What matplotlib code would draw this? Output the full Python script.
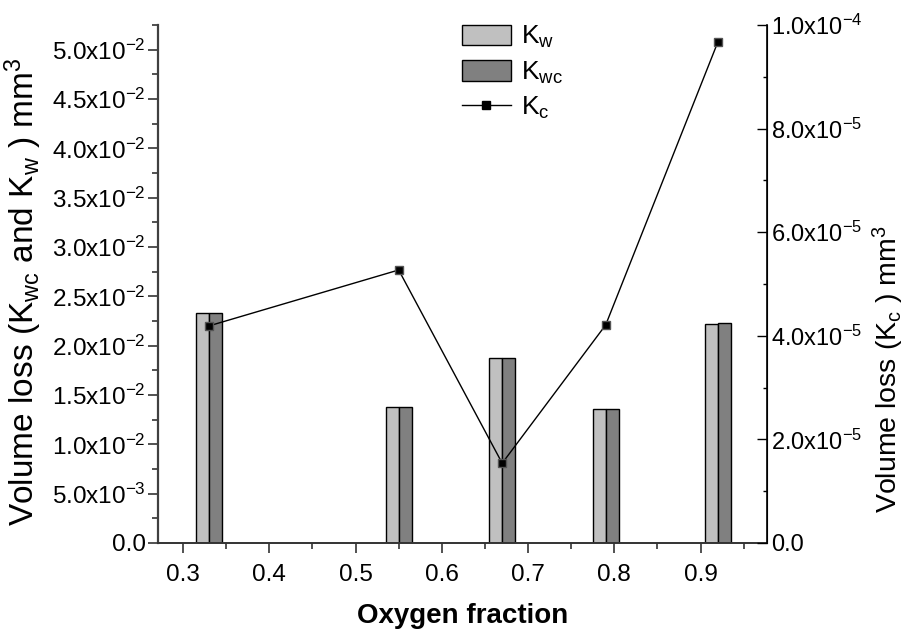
import matplotlib.pyplot as plt
import matplotlib.ticker as mticker
from matplotlib.patches import Patch
from matplotlib.lines import Line2D
import numpy as np

# data
oxygen_fraction = [0.33, 0.55, 0.67, 0.79, 0.92]
k_w = [2.33e-2, 1.378e-2, 1.875e-2, 1.358e-2, 2.22e-2]
k_wc = [2.33e-2, 1.378e-2, 1.875e-2, 1.358e-2, 2.23e-2]
k_c = [4.19e-5, 5.27e-5, 1.54e-5, 4.21e-5, 9.67e-5]

plt.rcParams["font.family"] = ["Liberation Sans", "DejaVu Sans"]
plt.rcParams["mathtext.default"] = "regular"


def sci_label(v, pos):
    if v == 0:
        return "0.0"
    exp = int(np.floor(np.log10(abs(v)) + 1e-9))
    mant = v / 10 ** exp
    return f"{mant:.1f}x10$^{{{exp}}}$"


def main():
    fig = plt.figure(figsize=(9.06, 6.37), dpi=100)
    ax1 = fig.add_axes([0.1744, 0.1476, 0.6722, 0.8132])
    ax2 = ax1.twinx()

    bar_w = 0.015
    x = np.array(oxygen_fraction)
    ax1.bar(x - bar_w / 2, k_w, width=bar_w, color="#c0c0c0",
            edgecolor="black", linewidth=1.0)
    ax1.bar(x + bar_w / 2, k_wc, width=bar_w, color="#808080",
            edgecolor="black", linewidth=1.0)

    ax2.plot(x, k_c, color="black", linewidth=1.0, marker="s",
             markersize=6, markerfacecolor="black", markeredgecolor="#555555")

    ax1.set_xlim(0.271, 0.977)
    ax1.set_ylim(0, 0.0525)
    ax2.set_ylim(0, 1.0e-4)

    ax1.xaxis.set_major_locator(mticker.MultipleLocator(0.1))
    ax1.xaxis.set_minor_locator(mticker.MultipleLocator(0.05))
    ax1.xaxis.set_major_formatter(mticker.FormatStrFormatter("%.1f"))
    ax1.yaxis.set_major_locator(mticker.MultipleLocator(0.005))
    ax1.yaxis.set_minor_locator(mticker.MultipleLocator(0.0025))
    ax1.yaxis.set_major_formatter(mticker.FuncFormatter(sci_label))
    ax2.yaxis.set_major_locator(mticker.MultipleLocator(2e-5))
    ax2.yaxis.set_minor_locator(mticker.MultipleLocator(1e-5))
    ax2.yaxis.set_major_formatter(mticker.FuncFormatter(sci_label))

    ax1.tick_params(axis="both", which="major", direction="out", length=7,
                    width=1.2, labelsize=17.5, color="#333333")
    ax1.tick_params(axis="x", which="major", pad=8)
    ax1.tick_params(axis="y", which="major", pad=2)
    ax1.tick_params(axis="both", which="minor", direction="out", length=4,
                    width=1.2, color="#333333")
    ax2.tick_params(axis="y", which="major", direction="in", length=7,
                    width=1.0, labelsize=17, pad=3)
    ax2.tick_params(axis="y", which="minor", direction="in", length=3,
                    width=1.0)

    for ax in (ax1, ax2):
        ax.spines["top"].set_visible(False)
    ax1.spines["left"].set_color("#404040")
    ax1.spines["left"].set_linewidth(1.6)
    ax1.spines["bottom"].set_color("#333333")
    ax1.spines["bottom"].set_linewidth(1.4)
    ax2.spines["right"].set_linewidth(1.2)
    ax2.spines["left"].set_visible(False)
    ax2.spines["bottom"].set_visible(False)

    ax1.set_xlabel("Oxygen fraction", fontsize=20, fontweight="bold")
    ax1.xaxis.set_label_coords(0.5, -0.115)
    ax1.set_ylabel("Volume loss (K$_{wc}$ and K$_w$ ) mm$^3$", fontsize=24)
    ax1.yaxis.set_label_coords(-0.187, 0.484)
    ax2.set_ylabel("Volume loss (K$_c$ ) mm$^3$", fontsize=20.5)
    ax2.yaxis.set_label_coords(1.171, 0.335)

    handles = [
        Patch(facecolor="#c0c0c0", edgecolor="black", linewidth=1.0),
        Patch(facecolor="#808080", edgecolor="black", linewidth=1.0),
        Line2D([], [], color="black", linewidth=1.0, marker="s", markersize=6,
               markerfacecolor="black"),
    ]
    labels = ["K$_w$", "K$_{wc}$", "K$_c$"]
    ax2.legend(handles, labels, loc="upper left",
               bbox_to_anchor=(0.51, 0.962), bbox_transform=fig.transFigure,
               frameon=False, fontsize=19, handlelength=1.85, handleheight=0.8,
               handletextpad=0.4, labelspacing=0.35, borderpad=0,
               borderaxespad=0)

    fig.savefig("out.png", dpi=100)
    plt.close(fig)


if __name__ == "__main__":
    main()
